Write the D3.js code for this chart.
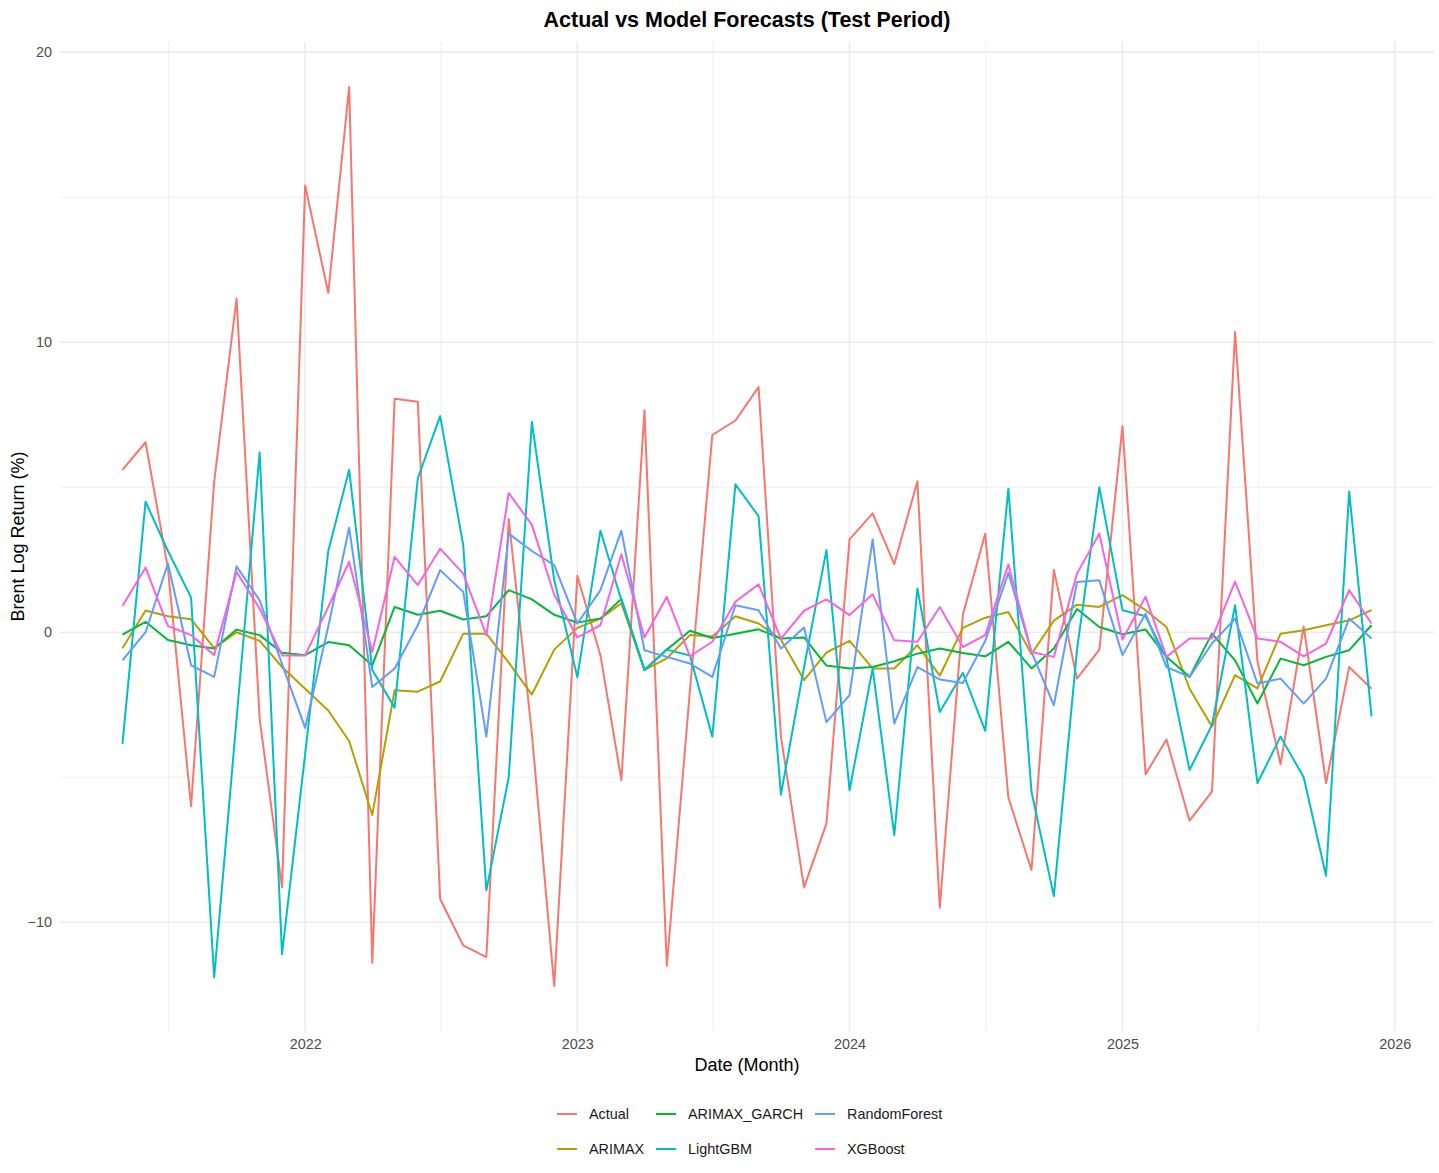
<!DOCTYPE html>
<html><head><meta charset="utf-8">
<script src="https://cdn.jsdelivr.net/npm/d3@7"></script>
<style>body{margin:0;background:#fff}svg{display:block}text{font-family:"Liberation Sans",Arial,Helvetica,sans-serif}</style>
</head><body>
<script>
const months = ["2021-05","2021-06","2021-07","2021-08","2021-09","2021-10","2021-11","2021-12",
"2022-01","2022-02","2022-03","2022-04","2022-05","2022-06","2022-07","2022-08","2022-09","2022-10","2022-11","2022-12",
"2023-01","2023-02","2023-03","2023-04","2023-05","2023-06","2023-07","2023-08","2023-09","2023-10","2023-11","2023-12",
"2024-01","2024-02","2024-03","2024-04","2024-05","2024-06","2024-07","2024-08","2024-09","2024-10","2024-11","2024-12",
"2025-01","2025-02","2025-03","2025-04","2025-05","2025-06","2025-07","2025-08","2025-09","2025-10","2025-11","2025-12"];

const actual = [5.6,6.55,2.2,-6.0,5.2,11.5,-3.0,-8.8,15.4,11.7,18.8,-11.4,8.05,7.95,-9.2,-10.8,-11.2,3.9,-3.5,-12.2,
1.95,-0.8,-5.1,7.65,-11.5,-2.0,6.8,7.3,8.45,-3.6,-8.8,-6.6,3.2,4.1,2.35,5.2,-9.5,0.6,3.4,-5.7,-8.2,2.15,-1.6,-0.6,
7.1,-4.9,-3.7,-6.5,-5.5,10.35,-1.0,-4.55,0.2,-5.2,-1.2,-1.95];
const arimax = [-0.55,0.75,0.55,0.45,-0.55,0.0,-0.3,-1.2,-1.95,-2.7,-3.75,-6.3,-2.0,-2.05,-1.7,-0.05,-0.05,-1.05,-2.15,-0.6,
0.15,0.47,1.0,-1.3,-0.9,-0.1,-0.15,0.55,0.3,-0.25,-1.65,-0.7,-0.3,-1.25,-1.25,-0.45,-1.5,0.15,0.5,0.7,-0.75,0.4,0.95,0.87,
1.28,0.76,0.18,-1.95,-3.25,-1.48,-1.94,-0.05,0.07,0.24,0.41,0.76];
const arimaxGarch = [-0.08,0.36,-0.27,-0.45,-0.56,0.09,-0.1,-0.71,-0.79,-0.34,-0.45,-1.14,0.87,0.6,0.74,0.44,0.55,1.45,1.13,0.6,
0.33,0.47,1.15,-1.3,-0.6,0.05,-0.2,-0.05,0.1,-0.22,-0.18,-1.15,-1.25,-1.2,-1.0,-0.74,-0.56,-0.72,-0.83,-0.33,-1.25,-0.56,0.8,0.18,
-0.07,0.09,-0.85,-1.54,-0.05,-0.97,-2.46,-0.91,-1.14,-0.85,-0.62,0.24];
const lightgbm = [-3.85,4.5,2.8,1.2,-11.9,-3.0,6.2,-11.1,-4.2,2.8,5.6,-1.3,-2.6,5.3,7.45,3.0,-8.9,-5.0,7.25,1.8,
-1.55,3.5,1.1,-1.3,-0.6,-0.8,-3.6,5.1,4.0,-5.6,-1.2,2.83,-5.45,-1.25,-7.0,1.51,-2.75,-1.4,-3.4,4.95,-5.5,-9.1,-0.6,5.0,
0.76,0.55,-0.9,-4.75,-3.2,0.93,-5.2,-3.6,-5.0,-8.4,4.85,-2.9];
const randomForest = [-0.97,0.0,2.37,-1.14,-1.54,2.27,1.1,-1.1,-3.3,0.2,3.6,-1.89,-1.25,0.24,2.14,1.39,-3.6,3.4,2.8,2.31,
0.3,1.45,3.5,-0.62,-0.85,-1.08,-1.54,0.93,0.76,-0.56,0.16,-3.1,-2.17,3.2,-3.15,-1.2,-1.63,-1.75,-0.3,2.05,-0.68,-2.52,1.73,1.79,
-0.79,0.64,-1.2,-1.54,-0.39,0.47,-1.77,-1.6,-2.46,-1.6,0.47,-0.22];
const xgboost = [0.9,2.23,0.21,-0.1,-0.79,2.08,0.81,-0.8,-0.8,0.87,2.43,-0.68,2.6,1.62,2.88,2.02,-0.1,4.8,3.7,1.3,
-0.18,0.24,2.69,-0.18,1.22,-0.83,-0.33,1.05,1.65,-0.22,0.74,1.13,0.59,1.31,-0.28,-0.33,0.87,-0.51,-0.1,2.34,-0.68,-0.85,2.02,3.4,
-0.25,1.22,-0.85,-0.22,-0.22,1.74,-0.22,-0.33,-0.83,-0.39,1.45,0.3];

const seriesNames = ["Actual","ARIMAX","ARIMAX_GARCH","LightGBM","RandomForest","XGBoost"];
const seriesValues = [actual, arimax, arimaxGarch, lightgbm, randomForest, xgboost];
const seriesColors = ["#F8766D","#B79F00","#00BA38","#00BFC4","#619CFF","#F564E3"];

const yMajorTicks = [-10, 0, 10, 20];
const yMinorTicks = [-5, 5, 15];
const xMajorTicks = ["2022-01-01","2023-01-01","2024-01-01","2025-01-01","2026-01-01"];
const xMinorTicks = ["2021-07-02","2022-07-02","2023-07-02","2024-07-02","2025-07-02"];

const titleText = "Actual vs Model Forecasts (Test Period)";
const xTitle = "Date (Month)";
const yTitle = "Brent Log Return (%)";

// ---------- layout ----------
const W = 1439, H = 1173;
const panel = {left: 60, right: 1434, top: 42, bottom: 1031};

const svg = d3.select("body").append("svg").attr("width", W).attr("height", H);
svg.append("rect").attr("width", W).attr("height", H).attr("fill", "#fff");

const parseM = d3.utcParse("%Y-%m");
const parseD = d3.utcParse("%Y-%m-%d");
const dates = months.map(parseM);

const xExt = d3.extent(dates);
const xPad = (xExt[1] - xExt[0]) * 0.05;
const x = d3.scaleUtc().domain([new Date(+xExt[0] - xPad), new Date(+xExt[1] + xPad)]).range([panel.left, panel.right]);

const allVals = seriesValues.flat();
const yExt = d3.extent(allVals);
const yPad = (yExt[1] - yExt[0]) * 0.05;
const y = d3.scaleLinear().domain([yExt[0] - yPad, yExt[1] + yPad]).range([panel.bottom, panel.top]);

// grid
const grid = svg.append("g");
grid.selectAll(".ymin").data(yMinorTicks).join("line")
  .attr("x1", panel.left).attr("x2", panel.right)
  .attr("y1", d => y(d)).attr("y2", d => y(d))
  .attr("stroke", "#EBEBEB").attr("stroke-width", 0.8);
grid.selectAll(".xmin").data(xMinorTicks.map(parseD)).join("line")
  .attr("y1", panel.top).attr("y2", panel.bottom)
  .attr("x1", d => x(d)).attr("x2", d => x(d))
  .attr("stroke", "#EBEBEB").attr("stroke-width", 0.8);
grid.selectAll(".ymaj").data(yMajorTicks).join("line")
  .attr("x1", panel.left).attr("x2", panel.right)
  .attr("y1", d => y(d)).attr("y2", d => y(d))
  .attr("stroke", "#EBEBEB").attr("stroke-width", 1.6);
grid.selectAll(".xmaj").data(xMajorTicks.map(parseD)).join("line")
  .attr("y1", panel.top).attr("y2", panel.bottom)
  .attr("x1", d => x(d)).attr("x2", d => x(d))
  .attr("stroke", "#EBEBEB").attr("stroke-width", 1.6);

// axes (ticks via d3 axes, domain and tick lines hidden)
const yAxis = svg.append("g").attr("transform", `translate(${panel.left},0)`)
  .call(d3.axisLeft(y).tickValues(yMajorTicks).tickSize(0).tickPadding(8).tickFormat(d3.format("d")));
yAxis.select(".domain").remove();
yAxis.selectAll("text").attr("fill", "#4D4D4D").style("font-size", "14.4px")
  .style("font-family", '"Liberation Sans",Arial,sans-serif');

const xAxis = svg.append("g").attr("transform", `translate(0,${panel.bottom})`)
  .call(d3.axisBottom(x).tickValues(xMajorTicks.map(parseD)).tickSize(0).tickPadding(8).tickFormat(d3.utcFormat("%Y")));
xAxis.select(".domain").remove();
xAxis.selectAll("text").attr("fill", "#4D4D4D").style("font-size", "14.4px")
  .style("font-family", '"Liberation Sans",Arial,sans-serif');

// lines
const line = d3.line().x((d, i) => x(dates[i])).y(d => y(d));
svg.append("g").selectAll("path").data(seriesValues).join("path")
  .attr("d", d => line(d))
  .attr("fill", "none")
  .attr("stroke", (d, i) => seriesColors[i])
  .attr("stroke-width", 2)
  .attr("stroke-linejoin", "round");

// titles
const cx = (panel.left + panel.right) / 2;
svg.append("text").attr("x", cx).attr("y", 27).attr("text-anchor", "middle")
  .style("font-size", "21.5px").style("font-weight", "bold").attr("fill", "#000").text(titleText);
svg.append("text").attr("x", cx).attr("y", 1071).attr("text-anchor", "middle")
  .style("font-size", "18px").attr("fill", "#000").text(xTitle);
svg.append("text").attr("transform", `translate(24,${(panel.top + panel.bottom) / 2}) rotate(-90)`)
  .attr("text-anchor", "middle").style("font-size", "18px").attr("fill", "#000").text(yTitle);

// legend (2 rows, filled by column)
const legendCols = [557, 656, 815];
const legendRows = [1114, 1149];
const lg = svg.append("g");
seriesNames.forEach((name, i) => {
  const col = Math.floor(i / 2), row = i % 2;
  const lx = legendCols[col], ly = legendRows[row];
  lg.append("line").attr("x1", lx).attr("x2", lx + 20).attr("y1", ly).attr("y2", ly)
    .attr("stroke", seriesColors[i]).attr("stroke-width", 2);
  lg.append("text").attr("x", lx + 32).attr("y", ly + 5).style("font-size", "14.4px")
    .attr("fill", "#1A1A1A").text(name);
});
</script>
</body></html>
